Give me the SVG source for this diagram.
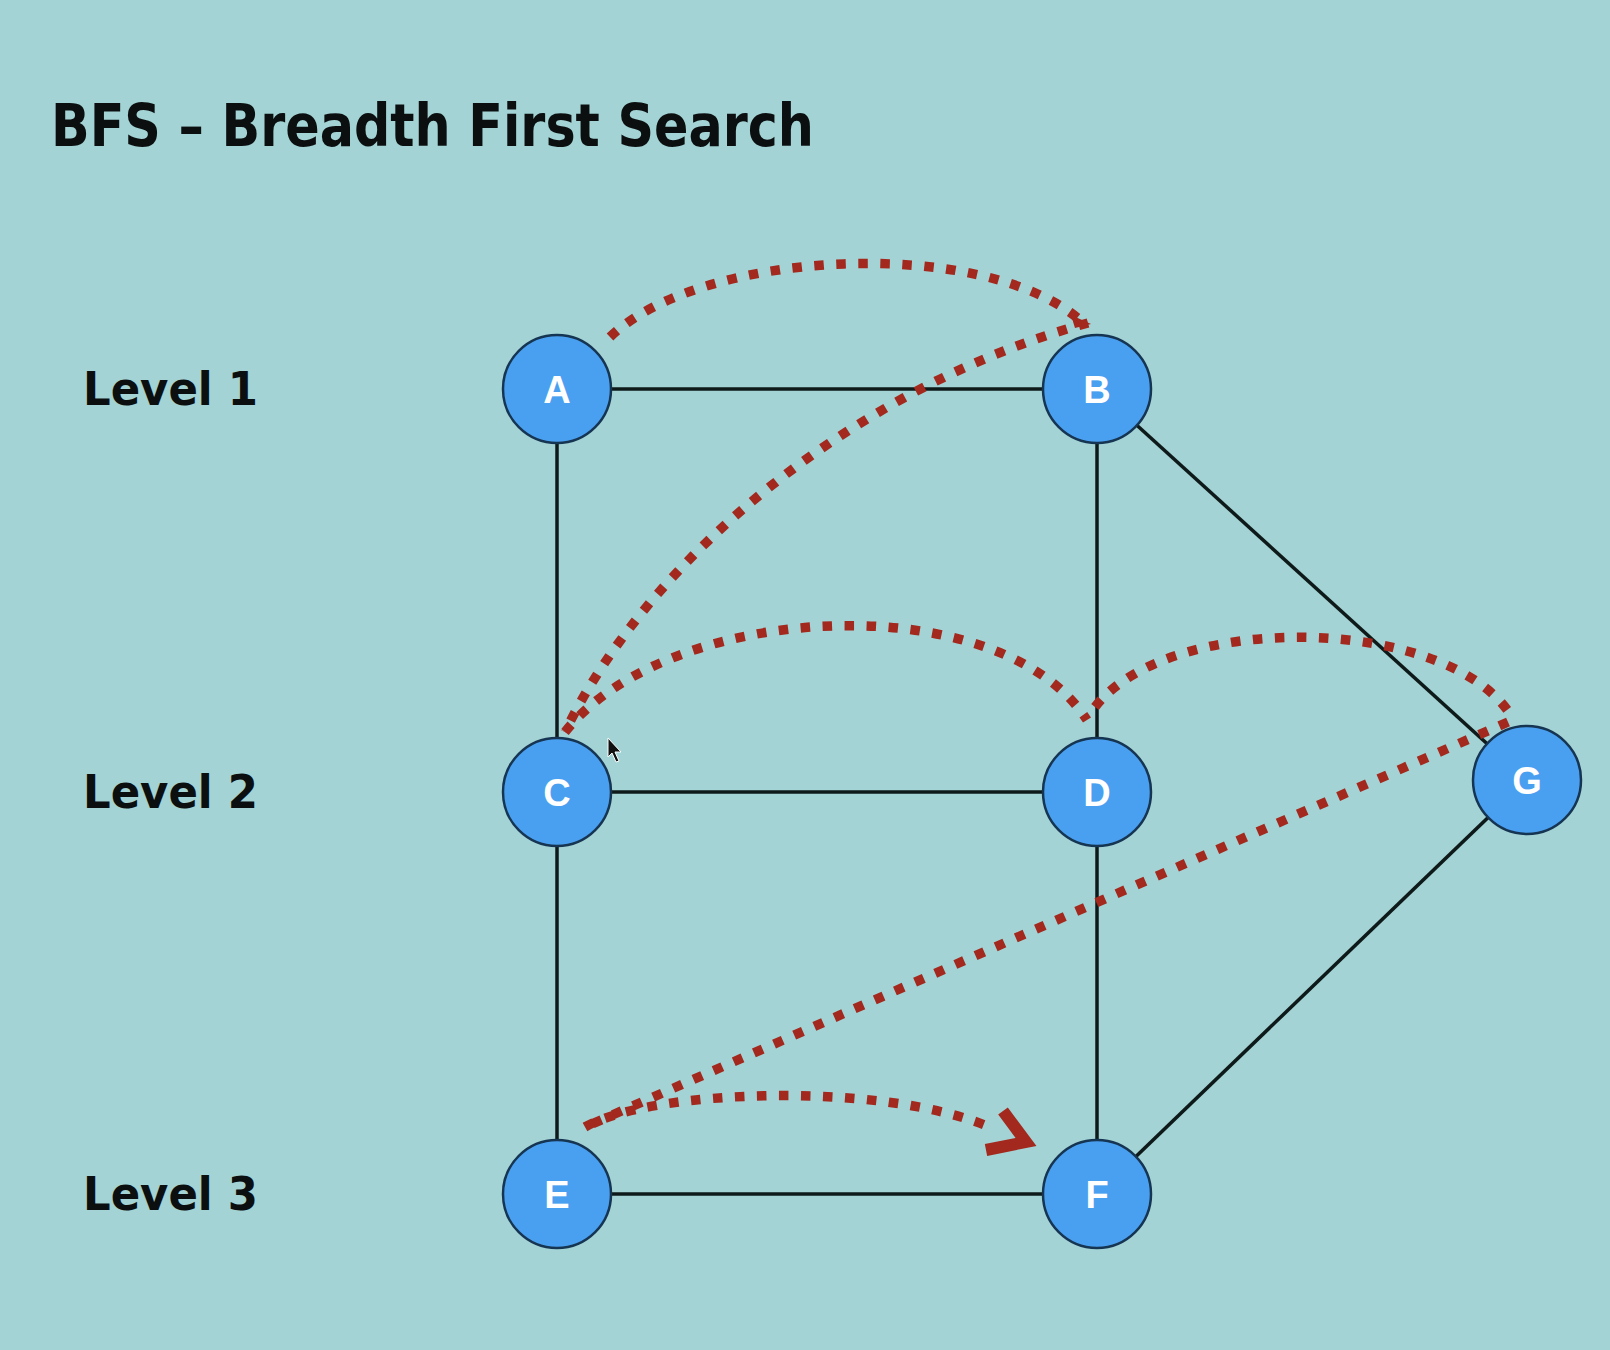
<svg xmlns="http://www.w3.org/2000/svg" width="1610" height="1350" viewBox="0 0 1610 1350">
<style>
.bg{fill:#a3d3d4}
.title{font-family:'DejaVu Sans Condensed','DejaVu Sans',sans-serif;font-weight:bold;font-size:59px;fill:#0b0f10}
.lvl{font-family:'DejaVu Sans','Liberation Sans',sans-serif;font-weight:bold;font-size:46px;fill:#0b0f10}
.edge{stroke:#0e1a1a;stroke-width:3.5;fill:none}
.node circle{fill:#4aa0f0;stroke:#163553;stroke-width:2.5}
.node text{font-family:'Liberation Sans',Arial,sans-serif;font-weight:bold;font-size:38px;fill:#ffffff;text-anchor:middle}
.trav{stroke:#a3281e;stroke-width:9.5;fill:none;stroke-dasharray:9.5 12.5}
.tip{fill:#a3281e}
</style>
<rect class="bg" x="0" y="0" width="1610" height="1350"/>
<text class="title" x="51" y="146" textLength="763" lengthAdjust="spacingAndGlyphs">BFS – Breadth First Search</text>
<text class="lvl" x="83" y="405" textLength="175" lengthAdjust="spacingAndGlyphs">Level 1</text>
<text class="lvl" x="83" y="808" textLength="175" lengthAdjust="spacingAndGlyphs">Level 2</text>
<text class="lvl" x="83" y="1210" textLength="175" lengthAdjust="spacingAndGlyphs">Level 3</text>
<g id="edges">
<line class="edge" x1="557" y1="389" x2="1097" y2="389"/>
<line class="edge" x1="557" y1="389" x2="557" y2="792"/>
<line class="edge" x1="557" y1="792" x2="557" y2="1194"/>
<line class="edge" x1="1097" y1="389" x2="1097" y2="792"/>
<line class="edge" x1="1097" y1="792" x2="1097" y2="1194"/>
<line class="edge" x1="557" y1="792" x2="1097" y2="792"/>
<line class="edge" x1="557" y1="1194" x2="1097" y2="1194"/>
<line class="edge" x1="1097" y1="389" x2="1527" y2="780"/>
<line class="edge" x1="1097" y1="1194" x2="1527" y2="780"/>
</g>
<g id="traversal">
<path class="trav" d="M610,337 C700,250 980,235 1080,320"/>
<polygon class="tip" points="1071,315 1091,324 1075,328"/>
<path class="trav" d="M1088,323 C860,385 650,555 565,732"/>
<path class="trav" d="M565,732 C670,600 1000,585 1087,720"/>
<path class="trav" d="M1095,707 C1170,610 1450,615 1512,717"/>
<path class="trav" d="M1508,722 L585,1127"/>
<path class="trav" d="M585,1127 C650,1090 880,1080 992,1128"/>
<polyline points="1003,1111 1026,1142 986,1150" fill="none" stroke="#a3281e" stroke-width="12" stroke-linejoin="miter"/>
</g>
<g id="node-A" class="node"><circle cx="557" cy="389" r="54"/><text x="557" y="403">A</text></g>
<g id="node-B" class="node"><circle cx="1097" cy="389" r="54"/><text x="1097" y="403">B</text></g>
<g id="node-C" class="node"><circle cx="557" cy="792" r="54"/><text x="557" y="806">C</text></g>
<g id="node-D" class="node"><circle cx="1097" cy="792" r="54"/><text x="1097" y="806">D</text></g>
<g id="node-G" class="node"><circle cx="1527" cy="780" r="54"/><text x="1527" y="794">G</text></g>
<g id="node-E" class="node"><circle cx="557" cy="1194" r="54"/><text x="557" y="1208">E</text></g>
<g id="node-F" class="node"><circle cx="1097" cy="1194" r="54"/><text x="1097" y="1208">F</text></g>
<polygon points="608,738 608,757 612,753 616,762 619,761 615,752 621,752" fill="#111" stroke="#ffffff" stroke-width="1"/>
</svg>
